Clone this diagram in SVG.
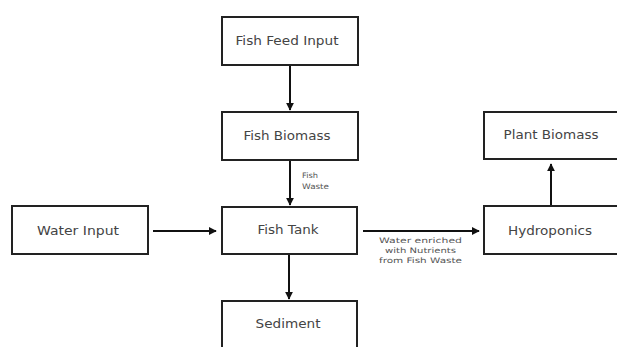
<svg xmlns="http://www.w3.org/2000/svg" width="617" height="347" viewBox="0 0 617 347">
<style>
.box{fill:#fff;stroke:#222;stroke-width:2}
.t{font-family:"DejaVu Sans",sans-serif;font-size:11.5px;fill:#444;text-anchor:middle}
.s{font-family:"DejaVu Sans",sans-serif;font-size:7.5px;fill:#555}
.c{stroke:#111;stroke-width:2;fill:none;marker-end:url(#ah)}
</style>
<defs>
<marker id="ah" viewBox="0 0 10 10" refX="9" refY="5" markerWidth="4" markerHeight="4" orient="auto" markerUnits="strokeWidth">
<path d="M0,0 L10,5 L0,10 z" fill="#111"/>
</marker>
</defs>
<rect width="617" height="347" fill="#fff"/>
<g id="connectors">
<line class="c" x1="290" y1="66" x2="290" y2="110"/>
<line class="c" x1="290" y1="161" x2="290" y2="205"/>
<line class="c" x1="289" y1="255" x2="289" y2="299"/>
<line class="c" x1="153" y1="231" x2="216" y2="231"/>
<line class="c" x1="363" y1="231" x2="479" y2="231"/>
<line class="c" x1="551" y1="205" x2="551" y2="164"/>
<text class="s" x="302" y="178" textLength="16" lengthAdjust="spacingAndGlyphs">Fish</text>
<text class="s" x="302" y="189" textLength="27" lengthAdjust="spacingAndGlyphs">Waste</text>
<text class="s" x="379" y="243" textLength="83" lengthAdjust="spacingAndGlyphs">Water enriched</text>
<text class="s" x="385" y="253" textLength="71" lengthAdjust="spacingAndGlyphs">with Nutrients</text>
<text class="s" x="379" y="263" textLength="83" lengthAdjust="spacingAndGlyphs">from Fish Waste</text>
</g>
<g id="fish-feed-input">
<rect class="box" x="222" y="17" width="136" height="48"/>
<text class="t" x="287" y="45" textLength="103" lengthAdjust="spacingAndGlyphs">Fish Feed Input</text>
</g>
<g id="fish-biomass">
<rect class="box" x="222" y="112" width="136" height="48"/>
<text class="t" x="287" y="140" textLength="87" lengthAdjust="spacingAndGlyphs">Fish Biomass</text>
</g>
<g id="fish-tank">
<rect class="box" x="222" y="207" width="135" height="47"/>
<text class="t" x="288" y="234" textLength="61" lengthAdjust="spacingAndGlyphs">Fish Tank</text>
</g>
<g id="sediment">
<rect class="box" x="222" y="301" width="135" height="50"/>
<text class="t" x="288" y="328" textLength="65" lengthAdjust="spacingAndGlyphs">Sediment</text>
</g>
<g id="water-input">
<rect class="box" x="12" y="206" width="136" height="48"/>
<text class="t" x="78" y="235" textLength="82" lengthAdjust="spacingAndGlyphs">Water Input</text>
</g>
<g id="plant-biomass">
<rect class="box" x="484" y="112" width="136" height="47"/>
<text class="t" x="551" y="139" textLength="95" lengthAdjust="spacingAndGlyphs">Plant Biomass</text>
</g>
<g id="hydroponics">
<rect class="box" x="484" y="206" width="136" height="48"/>
<text class="t" x="550" y="235" textLength="84" lengthAdjust="spacingAndGlyphs">Hydroponics</text>
</g>
</svg>
